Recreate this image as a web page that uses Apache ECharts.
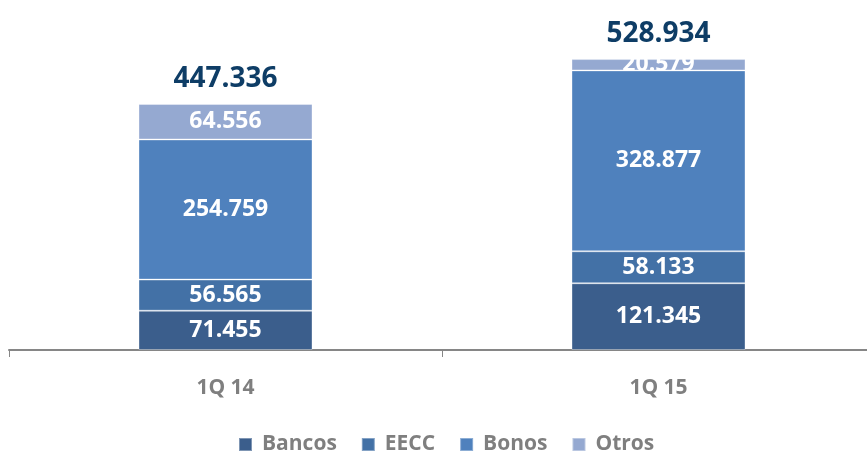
<!DOCTYPE html>
<html>
<head>
    <meta charset="utf-8">
    <title>ECharts</title>
    <script type="text/javascript" src="https://cdn.jsdelivr.net/npm/echarts@6/dist/echarts.min.js"></script>
</head>
<body style="margin:0;">
    <div id="main" style="width: 867px;height:453px;"></div>

    <script type="text/javascript">
        // data
        var categories = ['1Q 14', '1Q 15'];
        var bancos = [71.455, 121.345];
        var eecc = [56.565, 58.133];
        var bonos = [254.759, 328.877];
        var otros = [64.556, 20.579];
        var totals = [447.336, 528.934];

        var colors = ['#3B5E8C', '#4371A6', '#4F81BD', '#95A9D1'];

        function fmt(v) {
            return v.toFixed(3);
        }

        function segment(name, data, color) {
            return {
                name: name,
                type: 'bar',
                stack: 'total',
                barWidth: 174,
                data: data,
                itemStyle: {
                    color: color,
                    borderColor: 'rgba(255,255,255,0.35)',
                    borderWidth: 1
                },
                label: {
                    show: true,
                    position: 'inside',
                    color: '#fff',
                    fontFamily: 'Open Sans',
                    fontWeight: 'bold',
                    fontSize: 23,
                    formatter: function (p) { return fmt(p.value); }
                }
            };
        }

        var myChart = echarts.init(document.getElementById('main'));

        myChart.setOption({
            animation: false,
            grid: { left: 9, width: 866, top: 20, bottom: 103, outerBoundsMode: 'none', containLabel: false },
            legend: {
                data: ['Bancos', 'EECC', 'Bonos', 'Otros'],
                top: 429,
                left: 233,
                itemWidth: 13,
                itemHeight: 13,
                itemGap: 24,
                icon: 'rect',
                textStyle: {
                    color: '#7F7F7F',
                    fontFamily: 'Open Sans',
                    fontWeight: 'bold',
                    fontSize: 21,
                    padding: [0, 0, 0, 5]
                }
            },
            xAxis: {
                type: 'category',
                data: categories,
                axisLine: { lineStyle: { color: '#868686', width: 2 } },
                axisTick: { show: true, length: 7, lineStyle: { color: '#868686', width: 1 } },
                axisLabel: {
                    color: '#7F7F7F',
                    fontFamily: 'Open Sans',
                    fontWeight: 'bold',
                    fontSize: 21,
                    margin: 28
                }
            },
            yAxis: {
                type: 'value',
                min: 0,
                max: 600,
                show: false,
                splitLine: { show: false }
            },
            series: [
                segment('Bancos', bancos, colors[0]),
                segment('EECC', eecc, colors[1]),
                segment('Bonos', bonos, colors[2]),
                segment('Otros', otros, colors[3]),
                {
                    name: 'Total',
                    type: 'bar',
                    stack: 'total',
                    barWidth: 174,
                    data: [0, 0],
                    itemStyle: { color: 'transparent' },
                    label: {
                        show: true,
                        position: 'top',
                        distance: 11,
                        color: '#0E3D66',
                        fontFamily: 'Open Sans',
                        fontWeight: 'bold',
                        fontSize: 28,
                        formatter: function (p) { return fmt(totals[p.dataIndex]); }
                    }
                }
            ]
        });
    </script>
</body>
</html>
